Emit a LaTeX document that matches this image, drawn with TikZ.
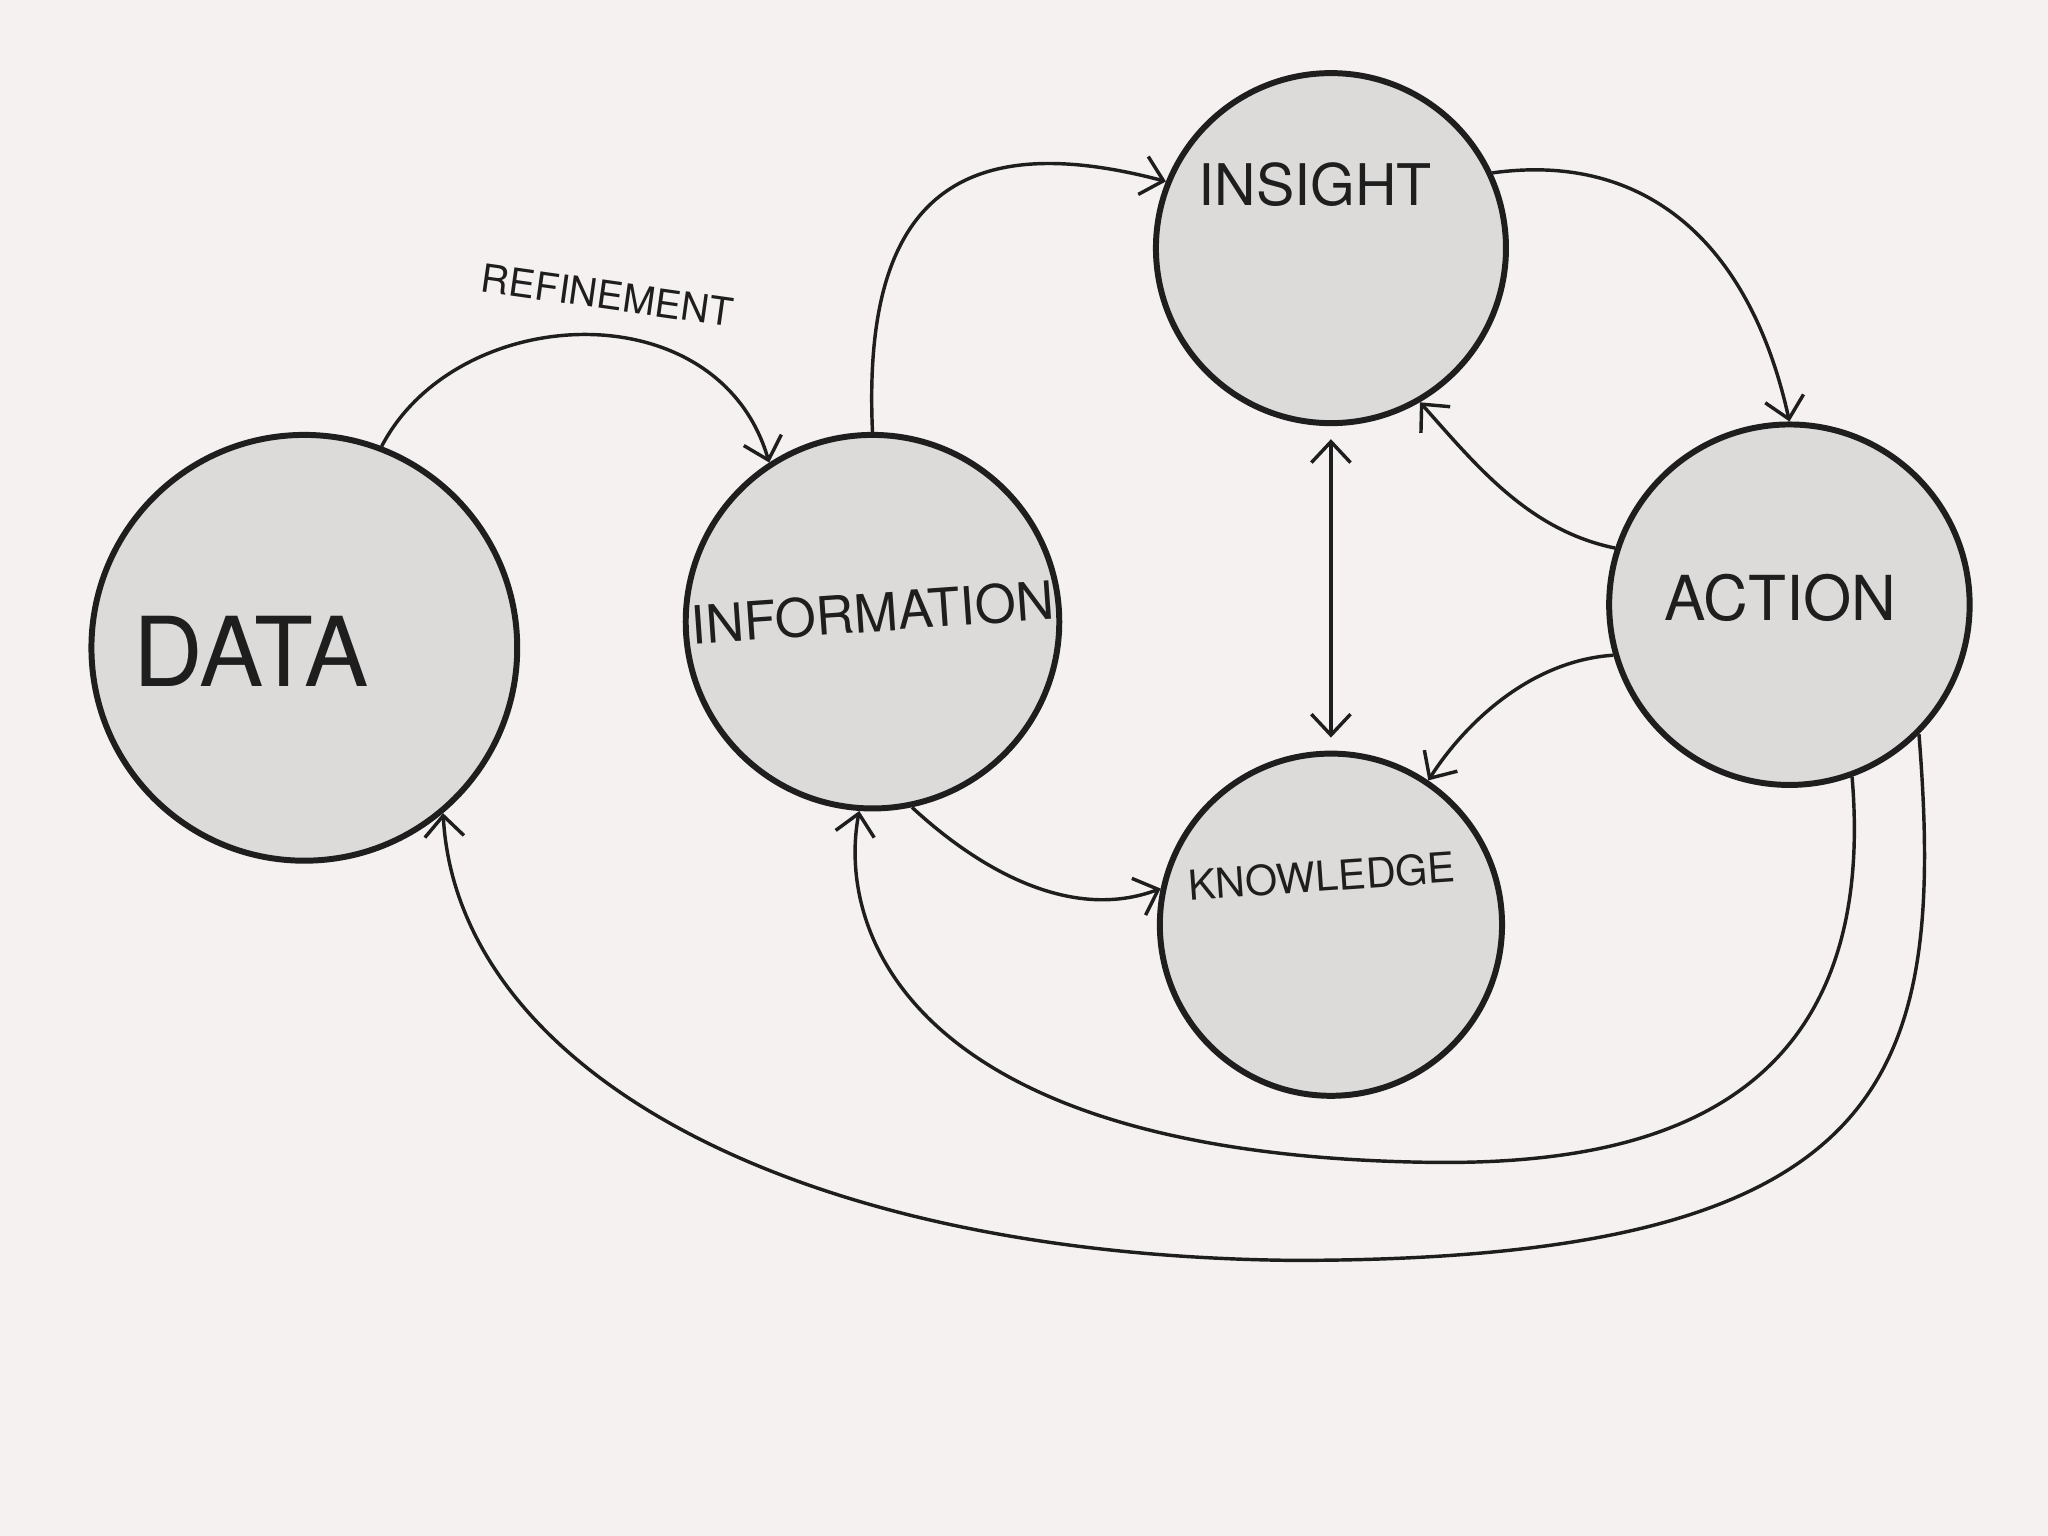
\documentclass[tikz,border=0pt]{standalone}
\usepackage{fontspec}
\setmainfont{TeX Gyre Heros}
\usetikzlibrary{arrows.meta}
\definecolor{bg}{RGB}{245,241,240}
\definecolor{nodefill}{RGB}{221,219,217}
\definecolor{ink}{RGB}{30,30,30}
\tikzset{
  bubble/.style={circle,draw=ink,fill=nodefill,line width=1.3pt,inner sep=0pt},
  conn/.style={draw=ink,line width=0.75pt,-{Straight Barb[length=1.6mm,width=3mm]}},
  lbl/.style={font=\fontsize{11.5}{11.5}\selectfont,text=ink}
}
\begin{document}
\begin{tikzpicture}
\fill[bg] (0,0) rectangle (15.68,11.76);
\useasboundingbox (0,0) rectangle (15.68,11.76);
\node[bubble,minimum size=3.26cm] (data) at (2.33,6.80) {};
\node[bubble,minimum size=2.86cm] (info) at (6.68,7.00) {};
\node[bubble,minimum size=2.68cm] (insight) at (10.19,9.86) {};
\node[bubble,minimum size=2.76cm] (action) at (13.70,7.13) {};
\node[bubble,minimum size=2.62cm] (know) at (10.19,4.68) {};
\node[lbl,font=\fontsize{21}{21}\selectfont] (tdata) at (1.92,6.77) {DATA};
\node[lbl,rotate=4] (tinfo) at (6.68,7.07) {INFORMATION};
\node[lbl,font=\fontsize{12.5}{12.5}\selectfont] (tinsight) at (10.07,10.35) {INSIGHT};
\node[lbl,font=\fontsize{13.5}{13.5}\selectfont] (taction) at (13.63,7.18) {ACTION};
\node[lbl,font=\fontsize{9}{9}\selectfont,rotate=4] (tknow) at (10.12,5.05) {KNOWLEDGE};
\node[lbl,font=\fontsize{8.5}{8.5}\selectfont,rotate=-8] (trefine) at (4.65,9.5) {REFINEMENT};

\draw[conn] (data.69) .. controls (3.5,9.45) and (5.5,9.55) .. (info.123);
\draw[conn] (info.90) .. controls (6.6,10.2) and (7.3,10.8) .. (insight.158);
\draw[conn] (insight.25) .. controls (12.6,10.6) and (13.4,9.9) .. (action.90);
\draw[conn] (action.162) .. controls (11.7,7.7) and (11.3,8.2) .. (insight.-60);
\draw[conn] (action.196) .. controls (11.7,6.7) and (11.2,6.2) .. (know.56);
\draw[conn,{Straight Barb[length=1.6mm,width=3mm]}-{Straight Barb[length=1.6mm,width=3mm]}] ([yshift=-1mm]insight.south) -- ([yshift=1mm]know.north);
\draw[conn] (info.-78) .. controls (7.5,5.1) and (8.2,4.7) .. (know.168);
\draw[conn] (action.-70) .. controls (14.4,3.2) and (12.5,2.85) .. (11,2.86) .. controls (7.0,2.9) and (6.4,4.6) .. (info.-94);
\draw[conn] (action.-45) .. controls (14.9,3.5) and (14.5,2.11) .. (9.9,2.11) .. controls (6,2.15) and (3.5,3.6) .. (data.-50);
\end{tikzpicture}
\end{document}
